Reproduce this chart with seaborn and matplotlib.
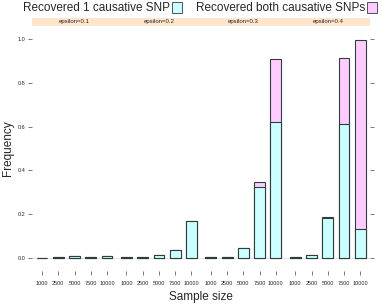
import matplotlib
matplotlib.use("Agg")
import matplotlib.pyplot as plt
import seaborn as sns
import pandas as pd
from matplotlib.patches import Rectangle

sample_sizes = ["1000", "2500", "5000", "7500", "10000"]
epsilons = ["epsilon=0.1", "epsilon=0.2", "epsilon=0.3", "epsilon=0.4"]

# frequency of recovering exactly one causative SNP
one_snp = {
    "epsilon=0.1": [0.000, 0.002, 0.007, 0.005, 0.007],
    "epsilon=0.2": [0.002, 0.003, 0.013, 0.037, 0.167],
    "epsilon=0.3": [0.002, 0.004, 0.043, 0.325, 0.620],
    "epsilon=0.4": [0.003, 0.011, 0.180, 0.614, 0.131],
}
# frequency of recovering both causative SNPs
both_snps = {
    "epsilon=0.1": [0.000, 0.000, 0.000, 0.000, 0.000],
    "epsilon=0.2": [0.000, 0.000, 0.000, 0.000, 0.003],
    "epsilon=0.3": [0.000, 0.000, 0.000, 0.022, 0.291],
    "epsilon=0.4": [0.000, 0.000, 0.006, 0.300, 0.866],
}
y_ticks = [0.0, 0.2, 0.4, 0.6, 0.8, 1.0]

col_one = "#CCFFFF"
col_both = "#FFCCFF"
edge = "#2f3d3d"

sns.set_style("white")
plt.rcParams["font.family"] = ["Liberation Sans", "DejaVu Sans"]

W, H = 383, 305
fig = plt.figure(figsize=(W / 100, H / 100), dpi=100)

left_px, right_px = 32.3, 370.0
top_px, bottom_px = 26.0, 271.0
strip_h = 8.5
pw = (right_px - left_px) / 4

for i, eps in enumerate(epsilons):
    x0 = left_px + i * pw
    ax = fig.add_axes([x0 / W, 1 - bottom_px / H, pw / W, (bottom_px - top_px) / H])
    df = pd.DataFrame({
        "size": sample_sizes,
        "one": one_snp[eps],
        "total": [a + b for a, b in zip(one_snp[eps], both_snps[eps])],
    })
    ax.axhline(0, color="#e6e6e6", lw=0.8, zorder=0)
    sns.barplot(data=df, x="size", y="total", order=sample_sizes, color=col_both,
                saturation=1, width=2 / 3, edgecolor=edge, linewidth=0.8, ax=ax)
    sns.barplot(data=df, x="size", y="one", order=sample_sizes, color=col_one,
                saturation=1, width=2 / 3, edgecolor=edge, linewidth=0.8, ax=ax)
    ax.set_xlim(-0.6, 4.6)
    ax.set_ylim(-0.061, 1.061)
    ax.set_xlabel("")
    ax.set_ylabel("")
    for s in ax.spines.values():
        s.set_visible(False)
    ax.tick_params(axis="x", length=3, width=0.5, pad=4, labelsize=4, bottom=True,
                   color="#444444")
    ax.set_yticks(y_ticks)
    if i == 0:
        ax.set_yticklabels([f"{v:.1f}" for v in y_ticks])
        ax.tick_params(axis="y", length=3, width=0.5, pad=2, labelsize=4, left=True,
                       color="#444444")
    elif i == 3:
        ax.yaxis.tick_right()
        ax.set_yticklabels([])
        ax.tick_params(axis="y", length=3, width=0.5, right=True, color="#444444")
    else:
        ax.tick_params(axis="y", left=False, labelleft=False)
    ax.patch.set_alpha(0)

    # strip above each panel
    fig.patches.append(Rectangle((x0 / W, 1 - top_px / H), pw / W, strip_h / H,
                                 transform=fig.transFigure, facecolor="#FFE5CC",
                                 edgecolor="none"))
    fig.text((x0 + pw / 2) / W, 1 - (top_px - strip_h / 2) / H, eps, fontsize=4.3,
             ha="center", va="center")

# key at top
fig.text(170 / W, 1 - 8 / H, "Recovered 1 causative SNP", fontsize=8.5,
         ha="right", va="center")
fig.patches.append(Rectangle((172 / W, 1 - 12.5 / H), 10 / W, 10 / H,
                             transform=fig.transFigure, facecolor=col_one,
                             edgecolor=edge, lw=0.6))
fig.text(365 / W, 1 - 8 / H, "Recovered both causative SNPs", fontsize=8.5,
         ha="right", va="center")
fig.patches.append(Rectangle((367 / W, 1 - 12.5 / H), 10 / W, 10 / H,
                             transform=fig.transFigure, facecolor=col_both,
                             edgecolor=edge, lw=0.6))

fig.text((left_px + right_px) / 2 / W, 1 - 297 / H, "Sample size", fontsize=8.5,
         ha="center", va="center")
fig.text(8 / W, 1 - (top_px + bottom_px) / 2 / H, "Frequency", fontsize=8.5,
         ha="center", va="center", rotation=90)

fig.savefig("out.png", dpi=100)
plt.close(fig)
